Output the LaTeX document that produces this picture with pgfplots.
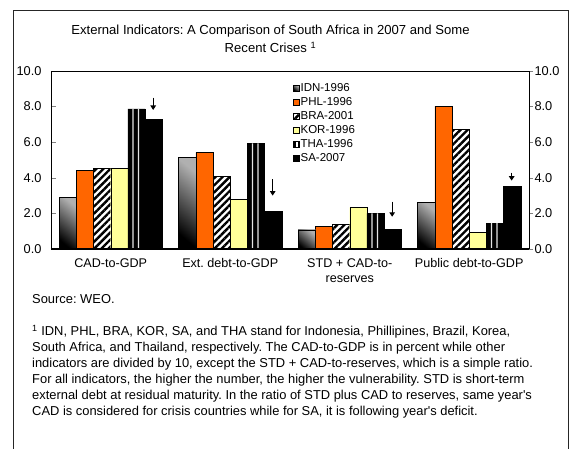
\documentclass[border=0pt]{standalone}
\usepackage{pgfplots}
\pgfplotsset{compat=1.18}
\usepackage{pgfplotstable}
\usepackage{fontspec}
\setmainfont{Liberation Sans}
\usetikzlibrary{patterns.meta,arrows.meta}
\frenchspacing

\definecolor{phl}{HTML}{FF6600}
\definecolor{kor}{HTML}{FFFF99}

% indicator values
\pgfplotstableread{
x IDN  PHL  BRA  KOR  THA  SA
0 2.90 4.42 4.53 4.53 7.87 7.29
1 5.15 5.43 4.08 2.79 5.94 2.12
2 1.07 1.27 1.40 2.34 2.00 1.12
3 2.62 8.03 6.72 0.94 1.46 3.50
}\datatable

% arrows above the SA bars
\pgfplotstableread{
x     y    v
0.355 8.50 -0.69
1.355 3.92 -0.92
2.355 2.66 -0.85
3.355 4.29 -0.45
}\arrowtable

\pgfplotsset{
  legsq/.style={legend image code/.code={\draw[##1] (0pt,-2.8pt) rectangle (5.5pt,2.8pt);}},
  idn/.style={ybar, bar shift=-0.36, draw=black, top color=gray!62, bottom color=black,
    shading angle=-40, legsq},
}

\begin{document}
\begin{tikzpicture}
\path[use as bounding box] (0pt,0pt) rectangle (571pt,449pt);
\draw[line width=0.9pt, black!85] (13pt,-2pt) -- (13pt,439pt) -- (568pt,439pt) -- (568pt,-2pt);

\node[align=center, font=\fontsize{13.1}{18}\selectfont] at (270.5pt,410pt)
  {External Indicators: A Comparison of South Africa in 2007 and Some\\Recent Crises \textsuperscript{1}};

\begin{axis}[
  at={(51pt,200pt)}, anchor=south west,
  scale only axis, width=478pt, height=178pt,
  xmin=-0.5, xmax=3.5, ymin=0, ymax=10,
  xtick={0,1,2,3},
  xticklabels={CAD-to-GDP, Ext. debt-to-GDP, {STD + CAD-to-\\reserves}, Public debt-to-GDP},
  xticklabel style={align=center, font=\fontsize{12.6}{15}\selectfont, yshift=-6pt},
  major x tick style={draw=none},
  ytick={0,2,...,10},
  ytick pos=left, tick align=inside, major tick length=5pt,
  yticklabel style={/pgf/number format/.cd, fixed, fixed zerofill, precision=1,
    /tikz/.cd, font=\fontsize{12.8}{15}\selectfont, xshift=-6pt},
  /pgf/number format/assume math mode=true,
  axis line style={line width=0.8pt},
  bar width=0.144,
  legend cell align=left,
  legend style={at={(0.5,0.955)}, anchor=north west, draw=none, fill=none,
    font=\fontsize{11.5}{13}\selectfont, row sep=0.5pt,
    nodes={inner xsep=1.5pt},
    /tikz/every even column/.append style={column sep=0pt}},
]
% IDN bars one by one so that each bar gets its own shading
\addplot[idn, restrict x to domain=0:0] table[x=x, y=IDN] {\datatable};
\addplot[ybar, bar shift=-0.216, draw=black, fill=phl, legsq]
  table[x=x, y=PHL] {\datatable};
\addplot[ybar, bar shift=-0.072, draw=black, fill=white,
  postaction={pattern={Lines[angle=45,distance=5pt,line width=2.4pt]}}, legsq]
  table[x=x, y=BRA] {\datatable};
\addplot[ybar, bar shift=0.072, draw=black, fill=kor, legsq]
  table[x=x, y=KOR] {\datatable};
\addplot[ybar, bar shift=0.216, draw=black, fill=black,
  legend image code/.code={\draw[fill=black] (0pt,-2.8pt) rectangle (5.5pt,2.8pt);
    \fill[white] (2.3pt,-2.2pt) rectangle (3.3pt,2.2pt);}]
  table[x=x, y=THA] {\datatable};
\addplot[ybar, bar shift=0.36, draw=black, fill=black, legsq]
  table[x=x, y=SA] {\datatable};
\addplot[idn, forget plot, restrict x to domain=1:1] table[x=x, y=IDN] {\datatable};
\addplot[idn, forget plot, restrict x to domain=2:2] table[x=x, y=IDN] {\datatable};
\addplot[idn, forget plot, restrict x to domain=3:3] table[x=x, y=IDN] {\datatable};
% light stripes inside the THA bars
\addplot[ybar, forget plot, bar shift=0.186, bar width=0.012, draw=none, fill=white!80!gray]
  table[x=x, y=THA] {\datatable};
\addplot[ybar, forget plot, bar shift=0.232, bar width=0.012, draw=none, fill=white!80!gray]
  table[x=x, y=THA] {\datatable};
\addplot[forget plot, quiver={u=0, v=\thisrow{v}}, draw=black, line width=1.2pt,
  -{Triangle[length=4.5pt,width=5.5pt]}, mark=none]
  table[x=x, y=y] {\arrowtable};
\draw[line width=1.8pt] (rel axis cs:0,0) -- (rel axis cs:1,0);
\legend{IDN-1996, PHL-1996, BRA-2001, KOR-1996, THA-1996, SA-2007}
\end{axis}

\begin{axis}[
  at={(51pt,200pt)}, anchor=south west,
  scale only axis, width=478pt, height=178pt,
  xmin=-0.5, xmax=3.5, ymin=0, ymax=10,
  axis x line=none, axis y line*=right,
  ytick={0,2,...,10}, tick align=outside, major tick length=4pt,
  yticklabel style={/pgf/number format/.cd, fixed, fixed zerofill, precision=1,
    /tikz/.cd, font=\fontsize{12.8}{15}\selectfont, xshift=-2pt},
  /pgf/number format/assume math mode=true,
  axis line style={line width=0.8pt},
]
\addplot[draw=none] coordinates {(0,0)};
\end{axis}

\node[anchor=west, inner sep=0pt, font=\fontsize{12.9}{14}\selectfont] at (32pt,150pt) {Source: WEO.};
\node[anchor=north west, inner sep=0pt, align=left, font=\fontsize{12.9}{16}\selectfont] at (32pt,124pt)
  {\textsuperscript{1} IDN, PHL, BRA, KOR, SA, and THA stand for Indonesia, Phillipines, Brazil, Korea,\\
   South Africa, and Thailand, respectively. The CAD-to-GDP is in percent while other\\
   indicators are divided by 10, except the STD + CAD-to-reserves, which is a simple ratio.\\
   For all indicators, the higher the number, the higher the vulnerability. STD is short-term\\
   external debt at residual maturity. In the ratio of STD plus CAD to reserves, same year\textquotesingle s\\
   CAD is considered for crisis countries while for SA, it is following year\textquotesingle s deficit.};
\end{tikzpicture}
\end{document}
